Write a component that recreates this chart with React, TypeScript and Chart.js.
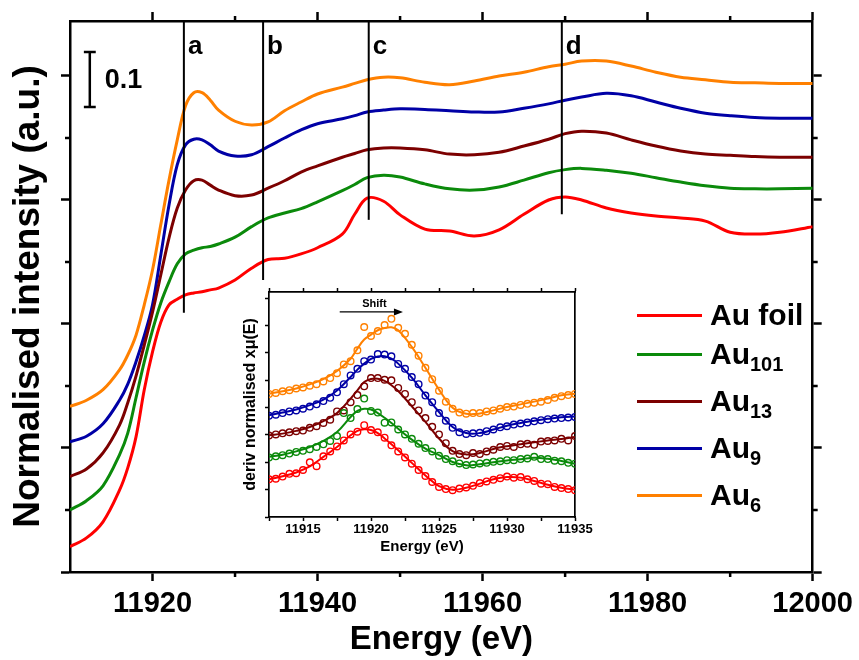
import React, { useEffect, useRef } from 'react';
import { Chart, registerables } from 'chart.js';

Chart.register(...registerables);

const FONT = "'Liberation Sans', Arial, sans-serif";
const RED = '#ff0000';
const GREEN = '#0b8a0b';
const BROWN = '#7c0000';
const BLUE = '#0000a6';
const ORANGE = '#ff8000';

// ---------- main chart data ----------
const energy = [11910, 11912, 11914, 11916, 11917, 11918, 11919, 11920, 11921, 11922, 11923, 11924, 11925, 11926, 11927, 11928, 11930, 11932, 11934, 11936, 11938, 11940, 11943, 11944.5, 11946, 11948, 11950, 11953, 11956, 11959, 11962, 11965, 11968, 11970, 11972, 11975, 11978, 11981, 11984, 11987, 11990, 11993, 11996, 12000];
const auFoil = [0.041, 0.055, 0.081, 0.132, 0.168, 0.218, 0.294, 0.355, 0.403, 0.431, 0.440, 0.447, 0.450, 0.452, 0.455, 0.458, 0.471, 0.490, 0.504, 0.506, 0.513, 0.523, 0.545, 0.577, 0.603, 0.598, 0.576, 0.553, 0.550, 0.542, 0.552, 0.577, 0.600, 0.605, 0.600, 0.587, 0.579, 0.574, 0.571, 0.566, 0.548, 0.545, 0.548, 0.557];
const au101 = [0.100, 0.115, 0.139, 0.189, 0.224, 0.281, 0.339, 0.390, 0.434, 0.468, 0.497, 0.513, 0.519, 0.523, 0.525, 0.529, 0.540, 0.557, 0.571, 0.579, 0.586, 0.597, 0.615, 0.625, 0.636, 0.640, 0.637, 0.626, 0.618, 0.616, 0.621, 0.632, 0.644, 0.649, 0.651, 0.648, 0.643, 0.636, 0.629, 0.623, 0.619, 0.618, 0.618, 0.619];
const au13 = [0.154, 0.166, 0.192, 0.237, 0.273, 0.316, 0.366, 0.419, 0.479, 0.539, 0.587, 0.616, 0.631, 0.632, 0.624, 0.616, 0.607, 0.608, 0.619, 0.631, 0.645, 0.655, 0.669, 0.675, 0.681, 0.684, 0.684, 0.681, 0.674, 0.673, 0.677, 0.687, 0.698, 0.707, 0.711, 0.708, 0.697, 0.687, 0.679, 0.674, 0.672, 0.670, 0.669, 0.669];
const au9 = [0.210, 0.219, 0.239, 0.277, 0.303, 0.339, 0.381, 0.431, 0.511, 0.592, 0.657, 0.689, 0.698, 0.697, 0.689, 0.679, 0.671, 0.673, 0.686, 0.700, 0.713, 0.723, 0.731, 0.736, 0.742, 0.745, 0.747, 0.746, 0.744, 0.742, 0.742, 0.748, 0.755, 0.761, 0.766, 0.772, 0.768, 0.758, 0.748, 0.740, 0.736, 0.733, 0.732, 0.732];
const au6 = [0.267, 0.277, 0.294, 0.326, 0.350, 0.382, 0.431, 0.487, 0.560, 0.632, 0.697, 0.752, 0.773, 0.773, 0.761, 0.745, 0.727, 0.721, 0.726, 0.744, 0.758, 0.771, 0.782, 0.788, 0.794, 0.798, 0.797, 0.790, 0.786, 0.792, 0.800, 0.806, 0.815, 0.819, 0.824, 0.824, 0.816, 0.806, 0.798, 0.794, 0.790, 0.789, 0.788, 0.788];

const seriesNames = ['Au foil', 'Au101', 'Au13', 'Au9', 'Au6'];
const seriesColors = [RED, GREEN, BROWN, BLUE, ORANGE];
const mainValues = [auFoil, au101, au13, au9, au6];

const X_MIN = 11910;
const X_MAX = 12000;
const Y_MIN = 0;
const Y_MAX = 0.8887;
const xMajorTicks = [11920, 11940, 11960, 11980, 12000];
const xMinorTicks = [11930, 11950, 11970, 11990];
const yMajorTicks = [0, 0.2, 0.4, 0.6, 0.8];
const yMinorTicks = [0.1, 0.3, 0.5, 0.7];

// feature markers a-d
const markerEnergy = [11923.8, 11933.4, 11946.2, 11969.6];
const markerBottom = [0.418, 0.471, 0.568, 0.577];
const markerLabel = ['a', 'b', 'c', 'd'];
const markerLabelY = 0.8355;

// scale bar (0.1)
const scaleBarEnergy = 11912.4;
const scaleBarCap = 0.72;
const scaleBarBottom = 0.75;
const scaleBarTop = 0.8387;
const scaleBarText = '0.1';
const scaleBarTextEnergy = 11914.2;
const scaleBarTextY = 0.7806;

// legend
const legendBase = ['Au foil', 'Au', 'Au', 'Au', 'Au'];
const legendSub = ['', '101', '13', '9', '6'];

// ---------- inset data ----------
const insetFitEnergy = [11912.5, 11913.5, 11914.5, 11915.5, 11916.5, 11917.5, 11918.5, 11919, 11919.5, 11920, 11920.5, 11921, 11921.5, 11922, 11923, 11924, 11925, 11926, 11927, 11928, 11929, 11930, 11931, 11932, 11933, 11934, 11935];
const fitFoil = [1.38, 1.49, 1.63, 1.85, 2.20, 2.56, 2.99, 3.15, 3.21, 3.18, 3.07, 2.87, 2.66, 2.44, 1.98, 1.52, 1.13, 1.00, 1.07, 1.22, 1.38, 1.46, 1.44, 1.32, 1.18, 1.07, 1.00];
const fit101 = [2.20, 2.28, 2.40, 2.56, 2.78, 3.11, 3.66, 3.88, 3.96, 3.93, 3.80, 3.63, 3.44, 3.23, 2.83, 2.50, 2.26, 2.01, 1.89, 1.93, 2.00, 2.07, 2.11, 2.17, 2.13, 2.05, 1.95];
const fit13 = [2.99, 3.05, 3.15, 3.29, 3.51, 3.80, 4.33, 4.63, 4.94, 5.05, 5.06, 4.98, 4.82, 4.61, 4.05, 3.48, 2.87, 2.41, 2.29, 2.34, 2.49, 2.59, 2.66, 2.73, 2.80, 2.85, 2.93];
const fit9 = [3.72, 3.82, 3.93, 4.09, 4.29, 4.63, 5.12, 5.39, 5.61, 5.78, 5.87, 5.88, 5.79, 5.61, 5.10, 4.45, 3.84, 3.29, 3.07, 3.07, 3.20, 3.34, 3.44, 3.52, 3.59, 3.65, 3.68];
const fit6 = [4.51, 4.60, 4.70, 4.85, 5.04, 5.34, 5.79, 6.16, 6.49, 6.67, 6.83, 6.91, 6.94, 6.83, 6.22, 5.46, 4.66, 4.00, 3.78, 3.79, 3.90, 4.02, 4.12, 4.22, 4.33, 4.45, 4.51];

const insetPtEnergy = [11912.5, 11913, 11913.5, 11914, 11914.5, 11915, 11915.5, 11916, 11916.5, 11917, 11917.5, 11918, 11918.5, 11919, 11919.5, 11920, 11920.5, 11921, 11921.5, 11922, 11922.5, 11923, 11923.5, 11924, 11924.5, 11925, 11925.5, 11926, 11926.5, 11927, 11927.5, 11928, 11928.5, 11929, 11929.5, 11930, 11930.5, 11931, 11931.5, 11932, 11932.5, 11933, 11933.5, 11934, 11934.5, 11935];
const ptFoil = [1.38, 1.40, 1.48, 1.58, 1.60, 1.72, 2.00, 1.86, 2.22, 2.40, 2.58, 2.80, 3.02, 3.12, 3.36, 3.18, 3.10, 2.90, 2.62, 2.40, 2.18, 1.95, 1.72, 1.50, 1.28, 1.10, 1.02, 0.98, 1.04, 1.08, 1.14, 1.24, 1.30, 1.36, 1.42, 1.48, 1.44, 1.46, 1.38, 1.32, 1.22, 1.20, 1.10, 1.06, 1.02, 0.98];
const pt101 = [2.18, 2.22, 2.26, 2.32, 2.38, 2.42, 2.48, 2.56, 2.66, 2.78, 2.96, 3.80, 3.62, 3.95, 4.33, 3.88, 3.82, 3.45, 3.46, 3.20, 3.02, 2.86, 2.68, 2.52, 2.40, 2.24, 2.12, 2.04, 1.96, 1.90, 1.92, 1.96, 1.98, 2.02, 2.04, 2.08, 2.08, 2.12, 2.14, 2.20, 2.12, 2.12, 2.06, 2.04, 1.98, 1.95];
const pt13 = [2.98, 3.02, 3.06, 3.10, 3.14, 3.16, 3.26, 3.32, 3.44, 3.56, 3.86, 3.90, 4.20, 4.46, 4.78, 5.08, 5.08, 5.02, 5.00, 4.72, 4.50, 4.20, 3.90, 3.62, 3.30, 3.02, 2.70, 2.42, 2.30, 2.26, 2.34, 2.30, 2.40, 2.46, 2.56, 2.60, 2.56, 2.66, 2.68, 2.64, 2.76, 2.78, 2.80, 2.86, 2.80, 2.96];
const pt9 = [3.70, 3.74, 3.80, 3.86, 3.90, 3.96, 4.04, 4.12, 4.24, 4.36, 4.56, 4.86, 5.18, 5.42, 5.70, 5.76, 5.96, 5.94, 5.88, 5.60, 5.42, 5.12, 4.86, 4.44, 4.20, 3.80, 3.52, 3.26, 3.10, 3.04, 3.06, 3.08, 3.14, 3.20, 3.28, 3.32, 3.38, 3.42, 3.46, 3.50, 3.54, 3.58, 3.60, 3.62, 3.64, 3.66];
const pt6 = [4.50, 4.54, 4.60, 4.64, 4.70, 4.74, 4.80, 4.86, 4.96, 5.08, 5.26, 5.58, 5.70, 6.10, 6.95, 6.62, 6.80, 7.02, 7.25, 6.92, 6.70, 6.30, 5.90, 5.46, 5.04, 4.62, 4.22, 3.96, 3.82, 3.78, 3.80, 3.80, 3.86, 3.90, 3.96, 4.02, 4.04, 4.10, 4.14, 4.18, 4.22, 4.28, 4.36, 4.42, 4.46, 4.50];

const insetFits = [fitFoil, fit101, fit13, fit9, fit6];
const insetPts = [ptFoil, pt101, pt13, pt9, pt6];

const IX_MIN = 11912.5;
const IX_MAX = 11935;
const IY_MIN = 0;
const IY_MAX = 8.23;
const insetXTicks = [11912.5, 11915, 11917.5, 11920, 11922.5, 11925, 11927.5, 11930, 11932.5, 11935];
const insetYTicks = [0, 1, 2, 3, 4, 5, 6, 7, 8];

const arrowStart = 11917.7;
const arrowEnd = 11922.35;
const arrowY = 7.5;
const shiftText = 'Shift';
const shiftTextEnergy = 11920.25;
const shiftTextY = 7.8;

const blackGrid = (len: number, w: number) => ({
  drawOnChartArea: false,
  drawTicks: true,
  tickLength: len,
  tickWidth: w,
  color: '#000',
});

const mainDecor = {
  id: 'mainDecor',
  afterDatasetsDraw(chart: any) {
    const { ctx, chartArea: a } = chart;
    const xs = chart.scales.x;
    const ys = chart.scales.y;
    const line = (x0: number, y0: number, x1: number, y1: number) => {
      ctx.beginPath();
      ctx.moveTo(x0, y0);
      ctx.lineTo(x1, y1);
      ctx.stroke();
    };
    ctx.save();
    ctx.strokeStyle = '#000';
    ctx.fillStyle = '#000';
    ctx.lineWidth = 2.5;
    xMinorTicks.forEach((v) => {
      const px = xs.getPixelForValue(v);
      line(px, a.bottom, px, a.bottom + 5);
      line(px, a.top, px, a.top - 5);
    });
    yMinorTicks.forEach((v) => {
      const py = ys.getPixelForValue(v);
      line(a.left, py, a.left - 5, py);
      line(a.right, py, a.right + 5, py);
    });
    ctx.lineWidth = 2;
    ctx.font = `bold 26px ${FONT}`;
    ctx.textAlign = 'left';
    ctx.textBaseline = 'alphabetic';
    markerEnergy.forEach((e, i) => {
      const px = xs.getPixelForValue(e);
      line(px, a.top, px, ys.getPixelForValue(markerBottom[i]));
      ctx.fillText(markerLabel[i], px + 4, ys.getPixelForValue(markerLabelY));
    });
    const bx = xs.getPixelForValue(scaleBarEnergy);
    const b0 = ys.getPixelForValue(scaleBarBottom);
    const b1 = ys.getPixelForValue(scaleBarTop);
    const cap = xs.getPixelForValue(scaleBarEnergy + scaleBarCap) - bx;
    ctx.lineWidth = 2.5;
    line(bx, b0, bx, b1);
    line(bx - cap, b0, bx + cap, b0);
    line(bx - cap, b1, bx + cap, b1);
    ctx.font = `bold 27px ${FONT}`;
    ctx.fillText(scaleBarText, xs.getPixelForValue(scaleBarTextEnergy), ys.getPixelForValue(scaleBarTextY));
    ctx.restore();
  },
};

const insetDecor = {
  id: 'insetDecor',
  afterDatasetsDraw(chart: any) {
    const { ctx } = chart;
    const xs = chart.scales.x;
    const ys = chart.scales.y;
    const x0 = xs.getPixelForValue(arrowStart);
    const x1 = xs.getPixelForValue(arrowEnd);
    const y = ys.getPixelForValue(arrowY);
    ctx.save();
    ctx.strokeStyle = '#000';
    ctx.fillStyle = '#000';
    ctx.lineWidth = 1.3;
    ctx.beginPath();
    ctx.moveTo(x0, y);
    ctx.lineTo(x1 - 6, y);
    ctx.stroke();
    ctx.beginPath();
    ctx.moveTo(x1, y);
    ctx.lineTo(x1 - 9, y - 3.5);
    ctx.lineTo(x1 - 9, y + 3.5);
    ctx.closePath();
    ctx.fill();
    ctx.font = `bold 11px ${FONT}`;
    ctx.textAlign = 'center';
    ctx.textBaseline = 'middle';
    ctx.fillText(shiftText, xs.getPixelForValue(shiftTextEnergy), ys.getPixelForValue(shiftTextY));
    ctx.restore();
  },
};

export default function App() {
  const mainRef = useRef<HTMLCanvasElement>(null);
  const insetRef = useRef<HTMLCanvasElement>(null);

  useEffect(() => {
    const mainBorder = { display: true, color: '#000', width: 2.5 };
    const main = new Chart(mainRef.current as HTMLCanvasElement, {
      type: 'line',
      data: {
        datasets: mainValues.map((vals, k) => ({
          label: seriesNames[k],
          data: energy.map((e, i) => ({ x: e, y: vals[i] })),
          borderColor: seriesColors[k],
          backgroundColor: seriesColors[k],
          borderWidth: 3,
          pointRadius: 0,
          tension: 0.35,
          fill: false,
          xAxisID: 'x',
          yAxisID: 'y',
        })),
      },
      options: {
        responsive: false,
        animation: false,
        events: [],
        layout: { padding: 0 },
        plugins: { legend: { display: false }, tooltip: { enabled: false } },
        scales: {
          x: {
            type: 'linear',
            position: 'bottom',
            min: X_MIN,
            max: X_MAX,
            afterBuildTicks: (s: any) => { s.ticks = xMajorTicks.map((v) => ({ value: v })); },
            afterFit: (s: any) => { s.height = 88; },
            ticks: {
              autoSkip: false,
              maxRotation: 0,
              padding: 6,
              color: '#000',
              font: { family: FONT, size: 29, weight: 'bold' },
              callback: (v: any) => String(v),
            },
            grid: blackGrid(9, 2.5),
            border: mainBorder,
            title: {
              display: true,
              text: 'Energy (eV)',
              color: '#000',
              font: { family: FONT, size: 33, weight: 'bold' },
              padding: { top: 0, bottom: 0 },
            },
          },
          xTop: {
            type: 'linear',
            position: 'top',
            min: X_MIN,
            max: X_MAX,
            afterBuildTicks: (s: any) => { s.ticks = xMajorTicks.map((v) => ({ value: v })); },
            afterFit: (s: any) => { s.height = 21; },
            ticks: { display: false },
            grid: blackGrid(9, 2.5),
            border: mainBorder,
          },
          y: {
            type: 'linear',
            position: 'left',
            min: Y_MIN,
            max: Y_MAX,
            afterBuildTicks: (s: any) => { s.ticks = yMajorTicks.map((v) => ({ value: v })); },
            afterFit: (s: any) => { s.width = 70; },
            ticks: { display: false },
            grid: blackGrid(9, 2.5),
            border: mainBorder,
            title: {
              display: true,
              text: 'Normalised intensity (a.u.)',
              color: '#000',
              font: { family: FONT, size: 37, weight: 'bold' },
              padding: { top: 7, bottom: 0 },
            },
          },
          yRight: {
            type: 'linear',
            position: 'right',
            min: Y_MIN,
            max: Y_MAX,
            afterBuildTicks: (s: any) => { s.ticks = yMajorTicks.map((v) => ({ value: v })); },
            afterFit: (s: any) => { s.width = 44; },
            ticks: { display: false },
            grid: blackGrid(9, 2.5),
            border: mainBorder,
          },
        },
      } as any,
      plugins: [mainDecor],
    });

    const insetBorder = { display: true, color: '#000', width: 1.7 };
    const insetDatasets: any[] = [];
    insetPts.forEach((vals, k) => {
      insetDatasets.push({
        label: seriesNames[k] + ' data',
        data: insetPtEnergy.map((e, i) => ({ x: e, y: vals[i] })),
        showLine: false,
        borderColor: seriesColors[k],
        backgroundColor: 'rgba(0,0,0,0)',
        pointRadius: 3.3,
        pointBorderWidth: 1.4,
        pointBackgroundColor: 'rgba(0,0,0,0)',
        pointBorderColor: seriesColors[k],
        xAxisID: 'x',
        yAxisID: 'y',
      });
    });
    insetFits.forEach((vals, k) => {
      insetDatasets.push({
        label: seriesNames[k] + ' fit',
        data: insetFitEnergy.map((e, i) => ({ x: e, y: vals[i] })),
        borderColor: seriesColors[k],
        borderWidth: 2,
        pointRadius: 0,
        tension: 0.4,
        fill: false,
        xAxisID: 'x',
        yAxisID: 'y',
      });
    });

    const inset = new Chart(insetRef.current as HTMLCanvasElement, {
      type: 'line',
      data: { datasets: insetDatasets },
      options: {
        responsive: false,
        animation: false,
        events: [],
        layout: { padding: 0 },
        plugins: { legend: { display: false }, tooltip: { enabled: false } },
        scales: {
          x: {
            type: 'linear',
            position: 'bottom',
            min: IX_MIN,
            max: IX_MAX,
            afterBuildTicks: (s: any) => { s.ticks = insetXTicks.map((v) => ({ value: v })); },
            afterFit: (s: any) => { s.height = 43; },
            ticks: {
              autoSkip: false,
              maxRotation: 0,
              padding: 1,
              color: '#000',
              font: { family: FONT, size: 13, weight: 'bold' },
              callback: (v: any) => (Number(v) % 5 === 0 ? String(v) : ''),
            },
            grid: blackGrid(4, 1.5),
            border: insetBorder,
            title: {
              display: true,
              text: 'Energy (eV)',
              color: '#000',
              font: { family: FONT, size: 15, weight: 'bold' },
              padding: { top: 0, bottom: 4 },
            },
          },
          xTop: {
            type: 'linear',
            position: 'top',
            min: IX_MIN,
            max: IX_MAX,
            afterBuildTicks: (s: any) => { s.ticks = insetXTicks.map((v) => ({ value: v })); },
            afterFit: (s: any) => { s.height = 8; },
            ticks: { display: false },
            grid: blackGrid(4, 1.5),
            border: insetBorder,
          },
          y: {
            type: 'linear',
            position: 'left',
            min: IY_MIN,
            max: IY_MAX,
            afterBuildTicks: (s: any) => { s.ticks = insetYTicks.map((v) => ({ value: v })); },
            afterFit: (s: any) => { s.width = 44; },
            ticks: { display: false },
            grid: blackGrid(4, 1.5),
            border: insetBorder,
            title: {
              display: true,
              text: 'deriv normalised xμ(E)',
              color: '#000',
              font: { family: FONT, size: 16, weight: 'bold' },
              padding: { top: 16, bottom: 0 },
            },
          },
          yRight: {
            type: 'linear',
            position: 'right',
            min: IY_MIN,
            max: IY_MAX,
            afterBuildTicks: (s: any) => { s.ticks = insetYTicks.map((v) => ({ value: v })); },
            afterFit: (s: any) => { s.width = 30; },
            ticks: { display: false },
            grid: { display: false },
            border: insetBorder,
          },
        },
      } as any,
      plugins: [insetDecor],
    });

    return () => {
      main.destroy();
      inset.destroy();
    };
  }, []);

  const legendRowY = [315, 354, 401, 448, 495];

  return (
    <div style={{ position: 'absolute', left: 0, top: 0, width: 859, height: 660, background: '#fff', overflow: 'hidden' }}>
      <canvas ref={mainRef} width={859} height={660} style={{ position: 'absolute', left: 0, top: 0 }} />
      <canvas ref={insetRef} width={380} height={276} style={{ position: 'absolute', left: 225, top: 284 }} />
      {legendBase.map((name, k) => (
        <React.Fragment key={k}>
          <div
            style={{
              position: 'absolute',
              left: 637,
              top: legendRowY[k] - 1.5,
              width: 65,
              height: 3,
              background: seriesColors[k],
            }}
          />
          <div
            style={{
              position: 'absolute',
              left: 710,
              top: legendRowY[k] - 15.4,
              fontFamily: FONT,
              fontWeight: 'bold',
              fontSize: 30,
              lineHeight: '30px',
              whiteSpace: 'nowrap',
              color: '#000',
            }}
          >
            {name}
            {legendSub[k] ? (
              <span style={{ fontSize: 20, verticalAlign: '-7px', lineHeight: 0 }}>{legendSub[k]}</span>
            ) : null}
          </div>
        </React.Fragment>
      ))}
    </div>
  );
}
